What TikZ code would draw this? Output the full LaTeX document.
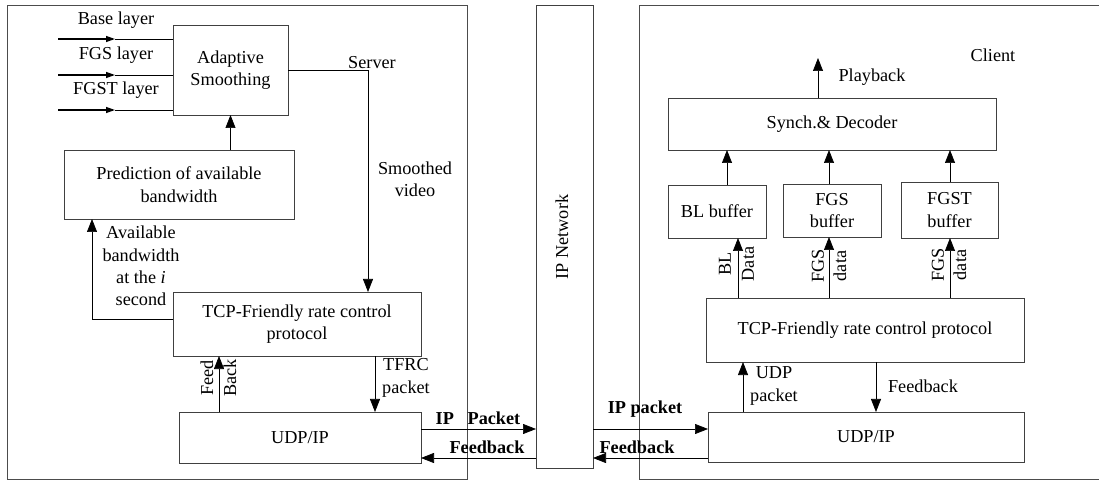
\documentclass[tikz,border=0pt]{standalone}
\usepackage{fontspec}
\setmainfont{Liberation Serif}
\usetikzlibrary{arrows.meta}
\begin{document}
\begin{tikzpicture}[x=1bp,y=-1bp,
  every node/.style={font=\fontsize{18.3}{22.5}\selectfont, inner sep=0pt, outer sep=0pt},
  box/.style={draw=black!75, line width=0.7pt, align=center},
  lbl/.style={align=center},
  blbl/.style={align=center, font=\fontsize{18.3}{22.5}\selectfont\bfseries},
  arr/.style={line width=0.7pt, -{Triangle[length=13bp,width=10bp]}},
  inarr/.style={line width=1.3pt, -{Triangle[length=9bp,width=6bp]}},
  frame/.style={draw=black!70, line width=0.8pt}]
\useasboundingbox (0,0) rectangle (1099,481);
% frames
\node[frame, minimum width=460bp, minimum height=474bp] (server) at (237,242) {};
\draw[frame] (1100,5) -| (639,479) -- (1100,479);
\node[box, minimum width=57bp, minimum height=463bp] (ipnet) at (564.5,236.5) {};
\node[rotate=90] (iplbl) at (562,237) {IP Network};
% server boxes
\node[box, minimum width=115bp, minimum height=90bp] (adapt) at (230.5,70) {Adaptive\\Smoothing};
\node[box, minimum width=230bp, minimum height=69bp] (pred) at (179,184.5) {Prediction of available\\bandwidth};
\node[box, minimum width=248bp, minimum height=64bp] (stcp) at (297,324) {TCP-Friendly rate control\\protocol};
\node[box, minimum width=242bp, minimum height=51bp] (sudp) at (300,437.5) {UDP/IP};
% client boxes
\node[box, minimum width=316bp, minimum height=50bp] (rudp) at (866,437) {UDP/IP};
\node[box, minimum width=318bp, minimum height=64bp] (rtcp) at (865,330) {TCP-Friendly rate control protocol};
\node[box, minimum width=98bp, minimum height=53bp] (bl) at (717,211.5) {BL buffer};
\node[box, minimum width=98bp, minimum height=53bp] (fgs) at (832,210.5) {FGS\\buffer};
\node[box, minimum width=97bp, minimum height=56bp] (fgst) at (949.5,210) {FGST\\buffer};
\node[box, minimum width=328bp, minimum height=52bp] (synch) at (832,124) {Synch.\& Decoder};
% input arrows
\foreach \i/\y in {1/39,2/75,3/110}{
  \coordinate (in\i) at (58,\y);
  \coordinate (mid\i) at (115,\y);
  \draw[inarr] (in\i) -- (mid\i);
  \draw[line width=0.7pt] (mid\i) -- (adapt.west |- in\i);
}
\node[lbl] (tbase) at (116,20) {Base layer};
\node[lbl] (tfgs) at (116,55) {FGS layer};
\node[lbl] (tfgst) at (116,90) {FGST layer};
% server connectors
\draw[arr] (pred.north -| adapt.south) -- (adapt.south);
\coordinate (sv) at (368,70);
\draw[arr] (adapt.east) -- (sv) -- (stcp.north -| sv);
\node[lbl] (tserver) at (372,63) {Server};
\node[lbl] (tsmooth) at (415,179) {Smoothed\\video};
\coordinate (ab) at (92,319);
\draw[arr] (stcp.west |- ab) -- (ab) -- (pred.south -| ab);
\node[lbl, align=center] (tavail) at (141,266) {Available\\bandwidth\\at the \textit{i}\\second};
\coordinate (fb) at (219,0);
\draw[arr] (sudp.north -| fb) -- (stcp.south -| fb);
\node[rotate=90] (tfeed) at (207,378) {Feed};
\node[rotate=90] (tback) at (230,378) {Back};
\coordinate (tf) at (375,0);
\draw[arr] (stcp.south -| tf) -- (sudp.north -| tf);
\node[lbl] (ttfrc) at (406,378) {TFRC\\packet};
% network arrows
\coordinate (ya) at (0,429);
\coordinate (yb) at (0,458);
\draw[arr] (sudp.east |- ya) -- (ipnet.west |- ya);
\draw[arr] (ipnet.west |- yb) -- (sudp.east |- yb);
\draw[arr] (ipnet.east |- ya) -- (rudp.west |- ya);
\draw[arr] (rudp.west |- yb) -- (ipnet.east |- yb);
\node[blbl] (tipp1) at (478,418) {IP\hspace{0.5em} Packet};
\node[blbl] (tfb1) at (487,447) {Feedback};
\node[blbl] (tipp2) at (645,409) {IP packet};
\node[blbl] (tfb2) at (637,447) {Feedback};
% client connectors
\coordinate (up) at (743,0);
\draw[arr] (rudp.north -| up) -- (rtcp.south -| up);
\node[lbl] (tudp) at (774,386) {UDP\\packet};
\coordinate (fd) at (876,0);
\draw[arr] (rtcp.south -| fd) -- (rudp.north -| fd);
\node[lbl] (tfb3) at (923,386) {Feedback};
\coordinate (d1) at (738,0);
\coordinate (d2) at (829,0);
\coordinate (d3) at (950,0);
\draw[arr] (rtcp.north -| d1) -- (bl.south -| d1);
\draw[arr] (rtcp.north -| d2) -- (fgs.south -| d2);
\draw[arr] (rtcp.north -| d3) -- (fgst.south -| d3);
\coordinate (u1) at (727,0);
\draw[arr] (bl.north -| u1) -- (synch.south -| u1);
\draw[arr] (fgs.north -| d2) -- (synch.south -| d2);
\draw[arr] (fgst.north -| d3) -- (synch.south -| d3);
\node[rotate=90] (tbl) at (725,264) {BL};
\node[rotate=90] (tdata1) at (748,264) {Data};
\node[rotate=90] (tfgs2) at (818,266) {FGS};
\node[rotate=90] (tdata2) at (840,266) {data};
\node[rotate=90] (tfgs3) at (938,265) {FGS};
\node[rotate=90] (tdata3) at (960,265) {data};
\coordinate (pb) at (818,58);
\draw[arr] (synch.north -| pb) -- (pb);
\node[lbl] (tplay) at (872,77) {Playback};
\node[lbl] (tclient) at (993,55) {Client};
\end{tikzpicture}
\end{document}
